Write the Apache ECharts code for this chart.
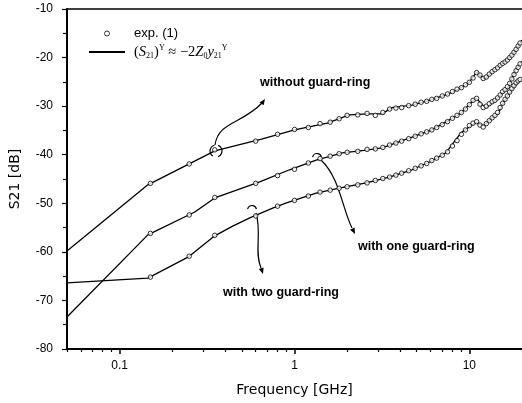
<!DOCTYPE html>
<html><head><meta charset="utf-8">
<script src="https://cdn.jsdelivr.net/npm/echarts@6/dist/echarts.min.js"></script>
<style>html,body{margin:0;padding:0;background:#fff}#c{width:522px;height:403px}</style>
</head><body><div id="c"></div>
<script>
// ---------- data ----------
const xLabelTicks = [0.1, 1, 10];
const xMinorTicks = [0.05, 0.06, 0.07, 0.08, 0.09, 0.2, 0.3, 0.4, 0.5, 0.6, 0.7, 0.8, 0.9, 2, 3, 4, 5, 6, 7, 8, 9, 20];

// measured (exp. (1))
const expFreq = [0.15, 0.25, 0.35, 0.6, 0.8, 1.0, 1.2, 1.4, 1.6, 1.8, 2.0, 2.3, 2.6, 2.9, 3.2, 3.5, 3.8, 4.1, 4.5, 4.9, 5.3, 5.7, 6.1, 6.5, 7.0, 7.5, 8.0, 8.5, 9.0, 9.5, 10.0, 10.5, 11.0, 11.5, 12.0, 12.5, 13.0, 13.5, 14.0, 14.5, 15.0, 15.5, 16.0, 16.5, 17.0, 17.5, 18.0, 18.5, 19.0, 19.5];
const expWithout = [-45.9, -41.9, -39.0, -37.2, -35.8, -34.8, -34.4, -33.6, -33.3, -32.6, -31.9, -31.8, -31.5, -31.9, -31.3, -30.6, -30.4, -30.3, -29.9, -29.6, -29.2, -29.0, -28.6, -28.4, -27.9, -27.5, -27.0, -26.5, -26.2, -25.6, -25.1, -24.2, -23.1, -23.6, -24.3, -24.0, -23.4, -22.9, -22.5, -22.1, -21.6, -21.2, -20.9, -20.5, -20.0, -19.5, -18.9, -18.3, -17.6, -17.0];
const expOne = [-56.2, -52.4, -48.8, -45.9, -44.3, -43.0, -41.7, -40.8, -40.3, -39.8, -39.5, -39.3, -38.9, -38.8, -38.5, -38.0, -37.6, -37.2, -36.7, -36.2, -35.7, -35.3, -34.9, -34.4, -33.8, -33.2, -32.5, -31.9, -31.3, -30.6, -29.7, -28.8, -28.4, -29.6, -30.3, -30.0, -29.5, -29.1, -28.8, -28.3, -27.7, -27.0, -26.6, -26.0, -25.3, -24.4, -23.5, -22.7, -22.0, -21.3];
const expTwo = [-65.2, -60.9, -56.6, -52.6, -50.6, -49.4, -48.5, -47.7, -47.3, -46.9, -46.6, -46.2, -45.8, -45.3, -44.9, -44.6, -44.2, -43.8, -43.3, -42.8, -42.3, -41.8, -41.2, -40.7, -40.1, -39.4, -38.2, -37.1, -35.8, -34.9, -34.0, -33.5, -33.2, -33.9, -34.3, -33.6, -33.0, -32.4, -31.9, -31.3, -30.3, -29.4, -28.6, -27.9, -27.1, -26.4, -25.8, -25.2, -24.8, -24.5];

// model (S21)^Y = -2 Z0 y21^Y
const simWithoutFreq = [0.05, 0.145, 0.35, 0.648, 1.0, 1.54, 2.06, 2.6, 3.17, 3.6, 4.7, 6.0, 7.34, 8.7, 9.93, 11.0, 12.25, 13.8, 15.5, 17.2, 18.5, 20];
const simWithout = [-59.8, -46.2, -39.2, -36.8, -34.9, -33.5, -31.8, -31.6, -31.6, -30.3, -29.8, -28.7, -27.7, -26.5, -25.2, -23.0, -24.4, -22.6, -21.2, -19.9, -18.4, -16.4];
const simOneFreq = [0.05, 0.145, 0.269, 0.35, 0.632, 0.937, 1.33, 1.88, 2.5, 3.17, 4.7, 6.0, 7.34, 8.95, 10.9, 12.4, 13.8, 15.2, 16.6, 18.4, 20];
const simOne = [-73.4, -56.5, -51.8, -48.9, -45.6, -43.1, -41.1, -39.6, -39.1, -38.6, -36.4, -35.0, -33.3, -31.4, -28.3, -30.4, -29.1, -27.6, -26.1, -22.6, -20.8];
const simTwoFreq = [0.05, 0.145, 0.246, 0.35, 0.443, 0.555, 0.75, 0.9, 1.33, 1.8, 2.57, 3.48, 4.7, 6.0, 7.34, 8.95, 10.9, 12.1, 13.5, 14.7, 15.7, 17.9, 20];
const simTwo = [-66.4, -65.4, -61.1, -56.7, -54.7, -53.0, -51.0, -49.9, -47.9, -46.9, -45.8, -44.6, -43.1, -41.4, -39.6, -35.5, -33.3, -34.1, -32.4, -31.4, -29.1, -26.1, -24.3];

const curveLabels = ['without guard-ring', 'with one guard-ring', 'with two guard-ring'];

// ---------- chart ----------
const zip = (a, b) => a.map((v, i) => [v, b[i]]);
const chart = echarts.init(document.getElementById('c'), null, {renderer: 'canvas'});
const FONT = 'Liberation Sans';

const lineSeries = [[simWithoutFreq, simWithout], [simOneFreq, simOne], [simTwoFreq, simTwo]].map(([f, v]) => ({
  type: 'line', name: 'sim', data: zip(f, v), symbol: 'none', showSymbol: false,
  lineStyle: {color: '#000', width: 1.3}, itemStyle: {color: '#000'}, z: 2, animation: false
}));
const scatterSeries = [expWithout, expOne, expTwo].map(v => ({
  type: 'scatter', name: 'exp. (1)', data: zip(expFreq, v), symbol: 'circle', symbolSize: 4.5,
  itemStyle: {color: '#fff', borderColor: '#000', borderWidth: 1}, z: 3, animation: false
}));

function arrowHead(tip, dir, len, half) {
  const n = Math.hypot(dir[0], dir[1]); const ux = dir[0] / n, uy = dir[1] / n;
  const bx = tip[0] - ux * len, by = tip[1] - uy * len;
  return {type: 'polygon', shape: {points: [tip, [bx - uy * half, by + ux * half], [bx + uy * half, by - ux * half]]}, style: {fill: '#000'}};
}
const stroke = {stroke: '#000', lineWidth: 1.2, fill: null};
const annoFont = 'bold 12.5px "Liberation Sans"';

chart.setOption({
  animation: false,
  backgroundColor: '#fff',
  grid: {left: 67, right: 0, top: 9, bottom: 54, containLabel: false},
  legend: {
    left: 83, top: 22, orient: 'vertical', itemGap: 4, itemWidth: 36, itemHeight: 5,
    data: [
      {name: 'exp. (1)', icon: 'circle', itemStyle: {color: '#fff', borderColor: '#000', borderWidth: 1}},
      {name: 'sim', itemStyle: {color: 'rgba(0,0,0,0)', borderColor: 'rgba(0,0,0,0)', borderWidth: 0}}
    ],
    formatter: n => n === 'sim' ? '{p|(}{i|S}{s|21}{p|)}{u|Y}{p| ≈ −2}{i|Z}{s|0}{i|y}{s|21}{u|Y}' : n,
    textStyle: {
      fontFamily: FONT, fontSize: 13, color: '#000', padding: [0, 0, 0, 4],
      rich: {
        p: {fontFamily: 'Liberation Serif', fontSize: 14.5, lineHeight: 16, color: '#000'},
        i: {fontFamily: 'Liberation Serif', fontStyle: 'italic', fontSize: 14.5, lineHeight: 16, color: '#000'},
        s: {fontFamily: 'Liberation Serif', fontSize: 8, lineHeight: 8, verticalAlign: 'bottom', color: '#000'},
        u: {fontFamily: 'Liberation Serif', fontSize: 8, lineHeight: 8, verticalAlign: 'top', color: '#000'}
      }
    }
  },
  xAxis: [
    {type: 'log', logBase: 10, min: 0.05, max: 20, position: 'bottom',
     name: 'Frequency [GHz]', nameLocation: 'middle', nameGap: 34,
     nameTextStyle: {fontFamily: 'DejaVu Sans', fontSize: 14, color: '#000'},
     axisLine: {show: true, lineStyle: {color: '#000', width: 2}},
     axisTick: {show: true, inside: false, length: 5, customValues: xLabelTicks, lineStyle: {color: '#000', width: 1.5}},
     axisLabel: {show: true, customValues: xLabelTicks, margin: 11, fontFamily: FONT, fontSize: 12, color: '#000', formatter: v => String(+v.toPrecision(3))},
     splitLine: {show: false}, minorTick: {show: false}},
    {type: 'log', logBase: 10, min: 0.05, max: 20, position: 'bottom',
     axisLine: {show: false},
     axisTick: {show: true, inside: false, length: 3, customValues: xMinorTicks, lineStyle: {color: '#000', width: 1.2}},
     axisLabel: {show: false}, splitLine: {show: false}},
    {type: 'log', logBase: 10, min: 0.05, max: 20, position: 'top',
     axisLine: {show: true, lineStyle: {color: '#000', width: 1.5}},
     axisTick: {show: false}, axisLabel: {show: false}, splitLine: {show: false}}
  ],
  yAxis: {
    type: 'value', min: -80, max: -10, interval: 10,
    name: 'S21 [dB]', nameLocation: 'middle', nameGap: 45, nameRotate: 90,
    nameTextStyle: {fontFamily: 'DejaVu Sans', fontSize: 14, color: '#000'},
    axisLine: {show: true, lineStyle: {color: '#000', width: 2}},
    axisTick: {show: true, inside: false, length: 5, lineStyle: {color: '#000', width: 1.2}},
    minorTick: {show: true, splitNumber: 2, length: 4, lineStyle: {color: '#000', width: 1.2}},
    axisLabel: {margin: 14, fontFamily: FONT, fontSize: 12, color: '#000'},
    splitLine: {show: false}
  },
  series: [...lineSeries, ...scatterSeries],
  graphic: [
    {type: 'text', x: 260, y: 83, style: {text: curveLabels[0], font: annoFont, fill: '#000', verticalAlign: 'middle'}},
    {type: 'text', x: 358, y: 247, style: {text: curveLabels[1], font: annoFont, fill: '#000', verticalAlign: 'middle'}},
    {type: 'text', x: 223, y: 293, style: {text: curveLabels[2], font: annoFont, fill: '#000', verticalAlign: 'middle'}},
    // arrow: without guard-ring
    {type: 'arc', shape: {cx: 216, cy: 151, r: 6, startAngle: -1.2, endAngle: 1.2}, style: stroke},
    {type: 'arc', shape: {cx: 216, cy: 151, r: 6, startAngle: Math.PI - 1.0, endAngle: Math.PI + 1.3}, style: stroke},
    {type: 'bezierCurve', shape: {x1: 215, y1: 145, cpx1: 218, cpy1: 122, cpx2: 242, cpy2: 124, x2: 262, y2: 103}, style: stroke},
    arrowHead([265, 99], [0.7, -1], 6, 2.5),
    // arrow: one guard-ring
    {type: 'arc', shape: {cx: 317, cy: 158, r: 4.5, startAngle: Math.PI + 0.2, endAngle: 2 * Math.PI - 0.2}, style: stroke},
    {type: 'bezierCurve', shape: {x1: 321, y1: 160, cpx1: 340, cpy1: 178, cpx2: 342, cpy2: 208, x2: 352, y2: 228}, style: stroke},
    arrowHead([355, 234], [0.45, 0.9], 6, 2.5),
    // arrow: two guard-ring
    {type: 'arc', shape: {cx: 252, cy: 210, r: 4.5, startAngle: Math.PI + 0.2, endAngle: 2 * Math.PI - 0.2}, style: stroke},
    {type: 'bezierCurve', shape: {x1: 256, y1: 213, cpx1: 262, cpy1: 232, cpx2: 254, cpy2: 252, x2: 261, y2: 268}, style: stroke},
    arrowHead([263, 274], [0.3, 0.95], 6, 2.5)
  ]
});
</script>
</body></html>
